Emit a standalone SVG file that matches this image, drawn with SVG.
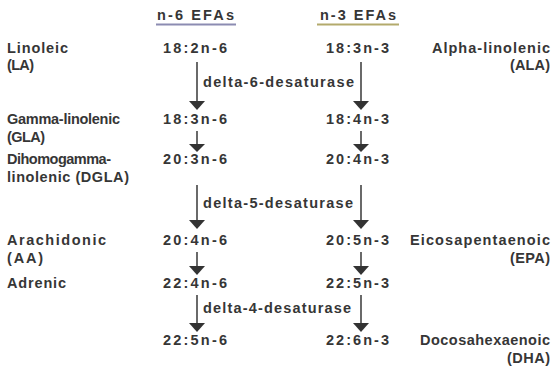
<svg xmlns="http://www.w3.org/2000/svg" width="554" height="371" viewBox="0 0 554 371">
<defs>
<style>
text{font-family:"Liberation Sans",Arial,sans-serif;font-size:14.5px;font-weight:bold;fill:#363636}
.r{text-anchor:end}
.ln{stroke:#444;stroke-width:1.6;fill:none}
.hd{fill:#333}
</style>
</defs>
<rect width="554" height="371" fill="#ffffff"/>
<g id="headers">
<text x="157" y="20" textLength="77" lengthAdjust="spacing">n-6 EFAs</text>
<line x1="156" y1="24.5" x2="236" y2="24.5" stroke="#8c8cb2" stroke-width="2"/>
<text x="320" y="20" textLength="76" lengthAdjust="spacing">n-3 EFAs</text>
<line x1="317" y1="24.5" x2="399" y2="24.5" stroke="#b3aa6c" stroke-width="2"/>
</g>
<g id="left-labels">
<text x="7" y="53" textLength="61" lengthAdjust="spacing">Linoleic</text>
<text x="7" y="70" textLength="27" lengthAdjust="spacing">(LA)</text>
<text x="7" y="124" textLength="113" lengthAdjust="spacing">Gamma-linolenic</text>
<text x="7" y="142" textLength="38" lengthAdjust="spacing">(GLA)</text>
<text x="7" y="164" textLength="104" lengthAdjust="spacing">Dihomogamma-</text>
<text x="7" y="182" textLength="122" lengthAdjust="spacing">linolenic (DGLA)</text>
<text x="7" y="245" textLength="99" lengthAdjust="spacing">Arachidonic</text>
<text x="7" y="263" textLength="36" lengthAdjust="spacing">(AA)</text>
<text x="7" y="288" textLength="59" lengthAdjust="spacing">Adrenic</text>
</g>
<g id="n6-column">
<text x="163" y="53" textLength="64" lengthAdjust="spacing">18:2n-6</text>
<text x="163" y="124" textLength="64" lengthAdjust="spacing">18:3n-6</text>
<text x="163" y="164" textLength="64" lengthAdjust="spacing">20:3n-6</text>
<text x="163" y="245" textLength="64" lengthAdjust="spacing">20:4n-6</text>
<text x="163" y="288" textLength="64" lengthAdjust="spacing">22:4n-6</text>
<text x="163" y="345" textLength="64" lengthAdjust="spacing">22:5n-6</text>
</g>
<g id="n3-column">
<text x="326" y="53" textLength="63" lengthAdjust="spacing">18:3n-3</text>
<text x="326" y="124" textLength="63" lengthAdjust="spacing">18:4n-3</text>
<text x="326" y="164" textLength="63" lengthAdjust="spacing">20:4n-3</text>
<text x="326" y="245" textLength="63" lengthAdjust="spacing">20:5n-3</text>
<text x="326" y="288" textLength="63" lengthAdjust="spacing">22:5n-3</text>
<text x="326" y="345" textLength="63" lengthAdjust="spacing">22:6n-3</text>
</g>
<g id="right-labels">
<text class="r" x="550" y="53" textLength="118" lengthAdjust="spacing">Alpha-linolenic</text>
<text class="r" x="550" y="70" textLength="40" lengthAdjust="spacing">(ALA)</text>
<text class="r" x="550" y="245" textLength="140" lengthAdjust="spacing">Eicosapentaenoic</text>
<text class="r" x="550" y="263" textLength="40" lengthAdjust="spacing">(EPA)</text>
<text class="r" x="550" y="345" textLength="130" lengthAdjust="spacing">Docosahexaenoic</text>
<text class="r" x="550" y="363" textLength="43" lengthAdjust="spacing">(DHA)</text>
</g>
<g id="enzymes">
<text x="203" y="87" textLength="151" lengthAdjust="spacing">delta-6-desaturase</text>
<text x="203" y="208" textLength="150" lengthAdjust="spacing">delta-5-desaturase</text>
<text x="203" y="313" textLength="148" lengthAdjust="spacing">delta-4-desaturase</text>
</g>
<g id="connectors">
<line class="ln" x1="197" y1="62" x2="197" y2="102"/>
<polygon class="hd" points="189,101 205,101 197,110"/>
<line class="ln" x1="361" y1="62" x2="361" y2="102"/>
<polygon class="hd" points="353,101 369,101 361,110"/>
<line class="ln" x1="197" y1="131" x2="197" y2="145"/>
<polygon class="hd" points="189,144 205,144 197,152"/>
<line class="ln" x1="361" y1="131" x2="361" y2="145"/>
<polygon class="hd" points="353,144 369,144 361,152"/>
<line class="ln" x1="197" y1="185" x2="197" y2="221"/>
<polygon class="hd" points="189,220 205,220 197,229"/>
<line class="ln" x1="361" y1="185" x2="361" y2="221"/>
<polygon class="hd" points="353,220 369,220 361,229"/>
<line class="ln" x1="197" y1="252" x2="197" y2="267"/>
<polygon class="hd" points="189,266 205,266 197,275"/>
<line class="ln" x1="361" y1="252" x2="361" y2="267"/>
<polygon class="hd" points="353,266 369,266 361,275"/>
<line class="ln" x1="197" y1="295" x2="197" y2="324"/>
<polygon class="hd" points="189,323 205,323 197,332"/>
<line class="ln" x1="361" y1="295" x2="361" y2="324"/>
<polygon class="hd" points="353,323 369,323 361,332"/>
</g>
</svg>
